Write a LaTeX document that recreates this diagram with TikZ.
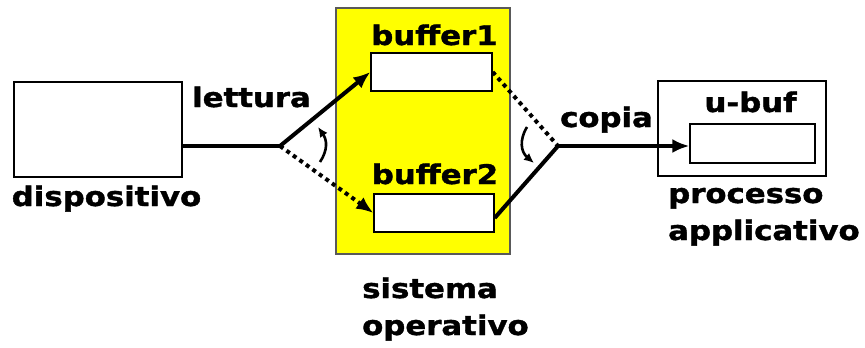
\documentclass[tikz,border=0pt]{standalone}
\usepackage{fontspec}
\setmainfont{DejaVu Sans}
\newfontfamily\heavyfont[FakeBold=1.3]{DejaVu Sans Bold}
\usetikzlibrary{arrows.meta}
\definecolor{osyellow}{RGB}{255,255,0}
% labels are set slightly wide
\newcommand\wide[1]{\scalebox{1.14}[1]{#1}}
\begin{document}
\begin{tikzpicture}[x=1pt,y=-1pt,
  box/.style={draw, line width=1.3pt, fill=white, inner sep=0pt},
  lbl/.style={font=\fontsize{27}{32}\heavyfont, inner sep=0pt, anchor=base},
  wire/.style={line width=4pt},
  dotwire/.style={line width=4pt, dash pattern=on 4pt off 4pt},
  tip/.style={-{Latex[length=17pt,width=14pt]}},
  turn/.style={line width=2.6pt, -{Latex[length=10pt,width=9pt]}}]
\useasboundingbox (0,0) rectangle (865,348);

% operating system area
\node[draw=black!65, line width=1.3pt, fill=osyellow, minimum width=174pt, minimum height=246pt, inner sep=0pt] (so) at (423,131) {};

% boxes
\node[box, minimum width=168pt, minimum height=95pt] (disp) at (98,129.5) {};
\node[box, minimum width=121pt, minimum height=38pt] (buf1) at (431.5,72) {};
\node[box, minimum width=120pt, minimum height=38pt] (buf2) at (434,213) {};
\node[box, minimum width=168pt, minimum height=95pt] (proc) at (742,128.5) {};
\node[box, minimum width=125pt, minimum height=39pt] (ubuf) at (752.5,143.5) {};

% switch points
\coordinate (j1) at (280,146);
\coordinate (j2) at (558,146);

% reading side
\draw[wire] (disp.east |- j1) -- (j1);
\draw[wire, tip] (j1) -- (buf1.west);
\draw[dotwire, tip] (j1) -- (buf2.west);
\draw[turn] (320,162) .. controls (328,150) and (327,140) .. (318,127);

% copy side
\draw[dotwire] (buf1.east) -- (j2);
\draw[wire] ([yshift=-5pt]buf2.east) -- (j2);
\draw[wire, tip] (j2) -- (ubuf.west |- j2);
\draw[turn] (527,127) .. controls (519,140) and (521,152) .. (534,163);

% labels
\node[lbl] (tlett) at (251.5,107) {\wide{lettura}};
\node[lbl] (tdisp) at (106.5,206) {\wide{dispositivo}};
\node[lbl] (tb1) at (434.5,45) {\wide{buffer1}};
\node[lbl] (tb2) at (435,184) {\wide{buffer2}};
\node[lbl] (tcop) at (606.5,127) {\wide{copia}};
\node[lbl] (tubuf) at (750.5,112) {\wide{u-buf}};
\node[lbl, anchor=base west] (tproc1) at (668,203) {\wide{processo}};
\node[lbl, anchor=base west] (tproc2) at (668,240) {\wide{applicativo}};
\node[lbl, anchor=base west] (tso1) at (362,298) {\wide{sistema}};
\node[lbl, anchor=base west] (tso2) at (362,335) {\wide{operativo}};
\end{tikzpicture}
\end{document}
